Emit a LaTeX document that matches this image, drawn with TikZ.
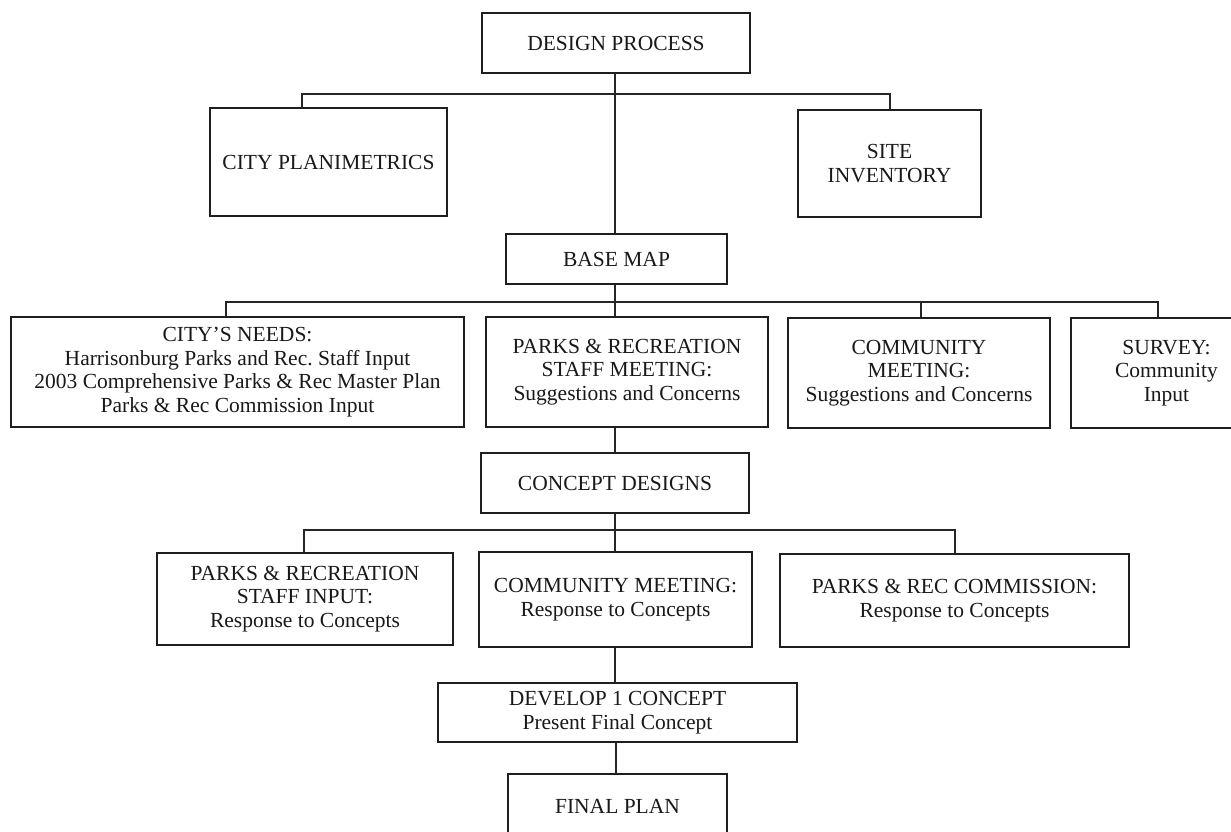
\documentclass[tikz,border=0pt]{standalone}
\usepackage{fontspec}
\setmainfont{Liberation Serif}
\frenchspacing
\begin{document}
\begin{tikzpicture}[x=1pt,y=-1pt,
  box/.style={draw=black!88,line width=2.5pt,rectangle,inner sep=0pt,align=center,
    font=\fontsize{21.5}{23.5}\selectfont,text=black!90},
  link/.style={draw=black!85,line width=1.8pt}]
\clip (0,0) rectangle (1231,831);
\fill[white] (0,0) rectangle (1231,831);
% nodes
\node[box,minimum width=268pt,minimum height=60pt] (design) at (616,43) {DESIGN PROCESS};
\node[box,minimum width=237pt,minimum height=108pt] (cityplan) at (328.5,162) {CITY PLANIMETRICS};
\node[box,minimum width=183pt,minimum height=107pt] (site) at (889.5,163.5) {SITE\\INVENTORY};
\node[box,minimum width=221pt,minimum height=50pt] (base) at (616.5,259) {BASE MAP};
\node[box,minimum width=453pt,minimum height=110pt] (needs) at (237.5,372) {CITY’S NEEDS:\\Harrisonburg Parks and Rec. Staff Input\\2003 Comprehensive Parks \& Rec Master Plan\\Parks \& Rec Commission Input};
\node[box,minimum width=282pt,minimum height=110pt] (staffmeet) at (627,372) {PARKS \& RECREATION\\STAFF MEETING:\\Suggestions and Concerns};
\node[box,minimum width=262pt,minimum height=110pt] (commmeet) at (919,373) {COMMUNITY\\MEETING:\\Suggestions and Concerns};
\node[box,minimum width=191pt,minimum height=110pt] (survey) at (1166.5,373) {SURVEY:\\Community\\Input};
\node[box,minimum width=268pt,minimum height=60pt] (concept) at (615,483) {CONCEPT DESIGNS};
\node[box,minimum width=296pt,minimum height=92pt] (staffinput) at (305,599) {PARKS \& RECREATION\\STAFF INPUT:\\Response to Concepts};
\node[box,minimum width=273pt,minimum height=95pt] (commmeet2) at (615.5,599.5) {COMMUNITY MEETING:\\Response to Concepts};
\node[box,minimum width=349pt,minimum height=93pt] (commission) at (954.5,600.5) {PARKS \& REC COMMISSION:\\Response to Concepts};
\node[box,minimum width=359pt,minimum height=59pt] (develop) at (617.5,712.5) {DEVELOP 1 CONCEPT\\Present Final Concept};
\node[box,minimum width=219pt,minimum height=64pt] (final) at (617.5,806) {FINAL PLAN};
% junction coordinates
\coordinate (a1) at (615,73);
\coordinate (b1) at (302,94);
\coordinate (b2) at (890,94);
\coordinate (c0) at (615,302);
\coordinate (c1) at (226,302);
\coordinate (c3) at (921,302);
\coordinate (c4) at (1158,302);
\coordinate (d0) at (615,530);
\coordinate (d1) at (304,530);
\coordinate (d3) at (955,530);
\coordinate (e0) at (616,742);
% connectors
\draw[link] (a1) -- (a1 |- base.north);
\draw[link] (b1 |- cityplan.north) -- (b1) -- (b2) -- (b2 |- site.north);
\draw[link] (c0 |- base.south) -- (c0 |- staffmeet.north);
\draw[link] (c1 |- needs.north) -- (c1) -- (c4) -- (c4 |- survey.north);
\draw[link] (c3) -- (c3 |- commmeet.north);
\draw[link] (c0 |- staffmeet.south) -- (c0 |- concept.north);
\draw[link] (d0 |- concept.south) -- (d0 |- commmeet2.north);
\draw[link] (d1 |- staffinput.north) -- (d1) -- (d3) -- (d3 |- commission.north);
\draw[link] (d0 |- commmeet2.south) -- (d0 |- develop.north);
\draw[link] (e0 |- develop.south) -- (e0 |- final.north);
\end{tikzpicture}
\end{document}
